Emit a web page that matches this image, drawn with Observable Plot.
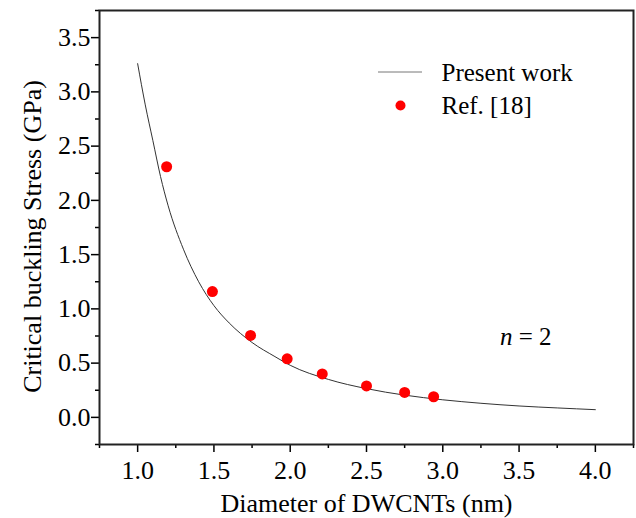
<!DOCTYPE html>
<html><head><meta charset="utf-8">
<script src="https://cdn.jsdelivr.net/npm/d3@7"></script>
<script src="https://cdn.jsdelivr.net/npm/@observablehq/plot@0.6"></script>
<style>
body{margin:0;background:#fff}
svg{display:block;background:#fff}
#chart svg, #chart svg text, #chart svg tspan{font-family:"Liberation Serif","Times New Roman",serif !important}
</style>
</head><body><div id="chart"></div>
<script>
// Present work curve
const curveD = [1.0,1.05,1.1,1.15,1.2,1.3,1.4,1.5,1.6,1.75,1.9,2.0,2.25,2.5,2.75,3.0,3.25,3.5,3.75,4.0];
const curveS = [3.26,2.88,2.55,2.22,1.95,1.55,1.25,1.03,0.87,0.69,0.56,0.48,0.35,0.265,0.205,0.162,0.130,0.105,0.087,0.071];
// Ref. [18] points
const refD = [1.19,1.49,1.74,1.98,2.21,2.50,2.75,2.94];
const refS = [2.31,1.16,0.755,0.54,0.40,0.29,0.23,0.19];
// ticks
const xTicks = [1.0,1.5,2.0,2.5,3.0,3.5,4.0];
const xMinor = [0.75,1.25,1.75,2.25,2.75,3.25,3.75,4.25];
const yTicks = [0.0,0.5,1.0,1.5,2.0,2.5,3.0,3.5];
const yMinor = [-0.25,0.25,0.75,1.25,1.75,2.25,2.75,3.25,3.75];
const xTitle = "Diameter of DWCNTs (nm)";
const yTitle = "Critical buckling Stress (GPa)";
const legendLabels = ["Present work", "Ref. [18]"];
const annotation = "n = 2";

const curve = curveD.map((d,i)=>({d, s: curveS[i]}));
const ref = refD.map((d,i)=>({d, s: refS[i]}));
const F = "'Liberation Serif', 'Times New Roman', serif";
const ML = 99, MT = 10;

const fmt = d3.format(".1f");
const chart = Plot.plot({
  width: 636, height: 518,
  marginLeft: ML, marginRight: 3, marginTop: MT, marginBottom: 74,
  style: {fontFamily: F, background: "#fff", color: "#000"},
  x: {domain: [0.75, 4.25]},
  y: {domain: [-0.25, 3.75]},
  marks: [
    Plot.axisX({ticks: xTicks, tickSize: 8, tickPadding: 8, tickFormat: fmt, fontSize: 26, label: null, strokeWidth: 1.5, fill:"#000"}),
    Plot.axisX({ticks: xMinor, tickSize: 4, tickFormat: () => "", label: null, strokeWidth: 1.5}),
    Plot.axisY({ticks: yTicks, tickSize: 8, tickPadding: 1, tickFormat: fmt, fontSize: 26, label: null, strokeWidth: 1.5, fill:"#000"}),
    Plot.axisY({ticks: yMinor, tickSize: 4, tickFormat: () => "", label: null, strokeWidth: 1.5}),
    Plot.line(curve, {x: "d", y: "s", stroke: "#333", strokeWidth: 1, curve: "monotone-x"}),
    Plot.dot(ref, {x: "d", y: "s", r: 5.5, fill: "#ff0000", stroke: "none"}),
    Plot.frame({stroke: "#222", strokeWidth: 2}),
    Plot.text([xTitle], {text: d => d, frameAnchor: "bottom", textAnchor: "middle", lineAnchor: "bottom", dy: 67, fontSize: 26, fill: "#000"}),
    Plot.text([yTitle], {text: d => d, frameAnchor: "left", rotate: -90, textAnchor: "middle", lineAnchor: "middle", dx: -67, dy: 9, fontSize: 26, fill: "#000"}),
    Plot.text([legendLabels[0]], {text: d => d, frameAnchor: "top-left", textAnchor: "start", lineAnchor: "bottom", dx: 441 - ML, dy: 80 - MT, fontSize: 25, fill: "#000"}),
    Plot.text([legendLabels[1]], {text: d => d, frameAnchor: "top-left", textAnchor: "start", lineAnchor: "bottom", dx: 441 - ML, dy: 113 - MT, fontSize: 25, fill: "#000"}),
    Plot.dot([0], {frameAnchor: "top-left", dx: 400 - ML, dy: 105 - MT, r: 5, fill: "#ff0000", stroke: "none"})
  ]
});
document.getElementById("chart").appendChild(chart);
const svg = d3.select(chart);
svg.append("line").attr("x1", 378).attr("x2", 422).attr("y1", 72).attr("y2", 72)
  .attr("stroke", "#777").attr("stroke-width", 1);
const t = svg.append("text").attr("x", 500).attr("y", 345).attr("text-anchor", "start")
  .attr("font-size", 25).attr("fill", "#000");
t.append("tspan").attr("font-style", "italic").text(annotation.split(" ")[0]);
t.append("tspan").text(" " + annotation.split(" ").slice(1).join(" "));
</script></body></html>
